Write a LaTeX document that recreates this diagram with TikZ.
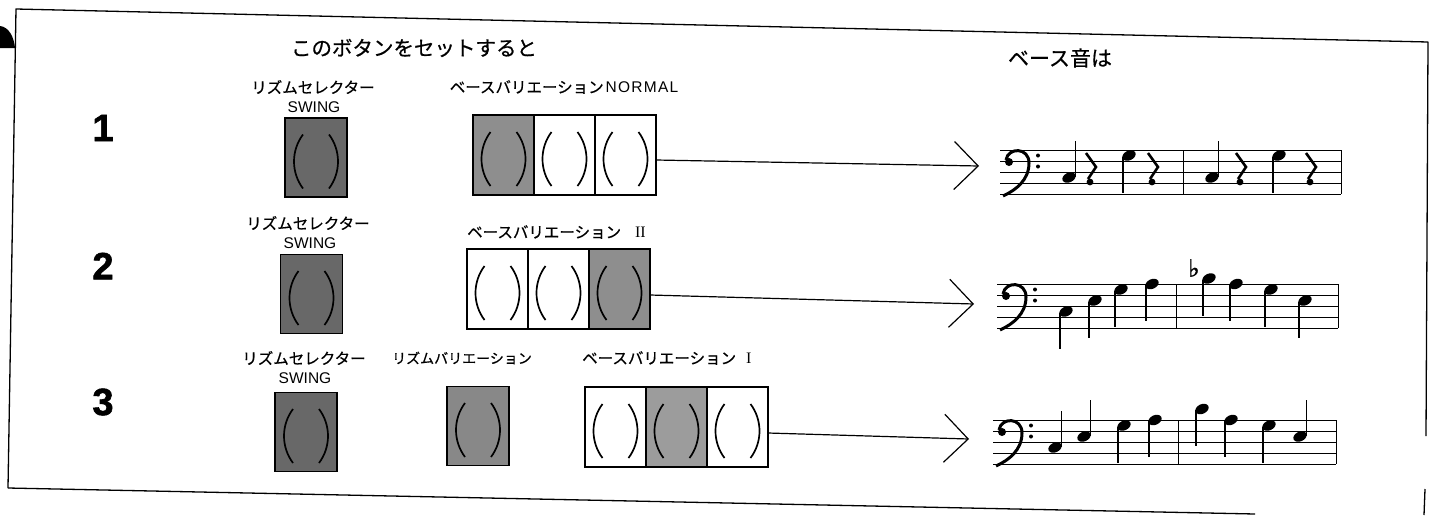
\documentclass[tikz,border=0pt]{standalone}
\usepackage{fontspec}
\setmainfont{Liberation Sans}
\newfontfamily\jp[FakeBold=0.6]{Noto Sans CJK JP}
\newfontfamily\dv[FakeBold=1]{DejaVu Sans}
\newfontfamily\ser{Liberation Serif}
\newfontfamily\heavy[FakeBold=1.5]{Liberation Sans Bold}
\usetikzlibrary{arrows.meta}
\definecolor{selgray}{HTML}{686868}
\definecolor{litgray}{HTML}{8E8E8E}
\definecolor{rvgray}{HTML}{888888}
\definecolor{lit3gray}{HTML}{9C9C9C}
\tikzset{
 ttl/.style={font=\jp\fontsize{20.5}{20.5}\selectfont, inner sep=0},
 lbl/.style={font=\jp\fontsize{15.5}{15.5}\selectfont, inner sep=0},
 sw/.style={font=\fontsize{15.5}{15.5}\selectfont, inner sep=0},
 num/.style={font=\heavy\fontsize{38}{38}\selectfont, inner sep=0},
 btn/.style={draw, line width=1.3pt, minimum width=62pt, minimum height=79pt, inner sep=0, outer sep=0},
 darkbtn/.style={btn, fill=selgray},
 rvbtn/.style={btn, fill=rvgray},
 cell/.style={btn, minimum width=61pt, minimum height=80pt, fill=white},
 litcell/.style={cell, fill=litgray},
 paren/.style={line width=1.7pt},
 conn/.style={line width=1.2pt, -{Straight Barb[length=24pt, width=48pt, line width=1.2pt]}},
 staffline/.style={line width=1pt},
 stemline/.style={line width=1.4pt},
 frame/.style={line width=1.3pt, line join=round},
 parens/.pic={
  \draw[paren] (-13,-23) .. controls (-25,-7) and (-25,15) .. (-13,31);
  \draw[paren] (13,-23) .. controls (25,-7) and (25,15) .. (13,31);
 }
}
% staff: x0, x1, top
\newcommand{\mystaff}[3]{%
 \foreach \k in {0,...,4}{\draw[staffline] (#1,#3+11*\k) -- (#2,#3+11*\k);}
 \draw[staffline] (#2,#3) -- (#2,#3+44);
 \fill (#1+9,#3+12) circle (4);
 \draw[line width=3pt] (#1+6,#3+10) .. controls (#1+8,#3-3) and (#1+29,#3-3) .. (#1+29,#3+13)
   .. controls (#1+29,#3+30) and (#1+16,#3+40) .. (#1+3,#3+46);
 \fill (#1+38,#3+5.5) circle (2);
 \fill (#1+38,#3+16.5) circle (2);
}
\newcommand{\bnote}[3]{%
 \fill[rotate around={25:(#1,#2)}] (#1,#2) ellipse (7 and 4.8);
 \ifnum#3>0 \draw[stemline] (#1+6.2,#2-1) -- (#1+6.2,#2-37);\else \draw[stemline] (#1-6.2,#2+1) -- (#1-6.2,#2+37);\fi
}
\newcommand{\qrest}[2]{%
 \draw[line width=2.6pt, line join=miter] (#1,#2+3) -- (#1+10,#2+17) -- (#1+2,#2+29);
 \fill (#1+4,#2+32) circle (3.4);
}
\newcommand{\bbar}[2]{\draw[staffline] (#1,#2) -- (#1,#2+44);}
\newcommand{\spaced}[1]{\addfontfeature{LetterSpace=8}#1}
\begin{document}
\begin{tikzpicture}[x=1pt,y=-1pt]
\useasboundingbox (0,0) rectangle (1438,515);
% frame
\draw[frame] (8,488) -- (16,9) -- (1428,42) -- (1426,436);
\draw[frame] (8,488) -- (1255,514);
\draw[frame] (1425,489) -- (1424,515);
\fill (0,26) .. controls (9,27) and (14,37) .. (15,48) -- (0,48) -- cycle;

% headings
\node[ttl] (title) at (414,48) {このボタンをセットすると};
\node[ttl, font=\jp\fontsize{21}{21}\selectfont] (result) at (1060,58) {ベース音は};

% ---------- row 1
\node[num] (num1) at (103,128) {1};
\node[lbl] (sel1) at (313,87) {リズムセレクター};
\node[sw] (sw1) at (314,107) {SWING};
\node[darkbtn] (box1) at (316,157.5) {};
\pic at (box1.center) {parens};
\node[lbl] (bv1) at (564,87) {ベースバリエーション\hspace{2pt}{\fontspec{Liberation Sans}\spaced{NORMAL}}};
\node[litcell] (b1a) at (503.5,155) {};
\node[cell] (b1b) at (564.5,155) {};
\node[cell] (b1c) at (625.5,155) {};
\foreach \c in {b1a,b1b,b1c}{\pic at (\c.center) {parens};}
\coordinate (t1) at (979,166);
\draw[conn] ([yshift=-5pt]b1c.east) -- (t1);
\mystaff{1000}{1341}{150}
\bnote{1069}{177.5}{1}
\qrest{1086}{150}
\bnote{1129}{155.5}{-1}
\qrest{1148}{150}
\bbar{1183}{150}
\bnote{1212}{177.5}{1}
\qrest{1236}{150}
\bnote{1279}{155.5}{-1}
\qrest{1306}{150}

% ---------- row 2
\node[num] (num2) at (103,266) {2};
\node[lbl] (sel2) at (308,223) {リズムセレクター};
\node[sw] (sw2) at (310,243) {SWING};
\node[darkbtn] (box2) at (311.5,294) {};
\pic at (box2.center) {parens};
\node[lbl, anchor=west] (bv2) at (467,232) {ベースバリエーション\hspace{14pt}{\ser\fontsize{16}{16}\selectfont II}};
\node[cell] (b2a) at (497.5,289) {};
\node[cell] (b2b) at (558.5,289) {};
\node[litcell] (b2c) at (619.5,289) {};
\foreach \c in {b2a,b2b,b2c}{\pic at (\c.center) {parens};}
\coordinate (t2) at (974,304);
\draw[conn] ([yshift=-6pt]b2c.east) -- (t2);
\mystaff{997}{1338}{284}
\bnote{1066}{311.5}{-1}
\bnote{1095}{300.5}{-1}
\bnote{1121}{289.5}{-1}
\bnote{1152}{284}{-1}
\bbar{1176}{284}
\node[font=\dv\fontsize{24}{24}\selectfont, inner sep=0] (flat) at (1194,268) {♭};
\bnote{1209}{278.5}{-1}
\bnote{1236}{284}{-1}
\bnote{1271}{289.5}{-1}
\bnote{1305}{300.5}{-1}

% ---------- row 3
\node[num] (num3) at (103,402) {3};
\node[lbl] (sel3) at (304,358) {リズムセレクター};
\node[sw] (sw3) at (305,378) {SWING};
\node[darkbtn] (box3) at (306,432) {};
\pic at (box3.center) {parens};
\node[lbl, font=\jp\fontsize{14}{14}\selectfont] (rv3) at (462,358) {リズムバリエーション};
\node[rvbtn] (rvbox) at (478,426) {};
\pic at (rvbox.center) {parens};
\node[lbl, anchor=west] (bv3) at (582,358) {ベースバリエーション\hspace{10pt}{\ser\fontsize{16}{16}\selectfont I}};
\node[cell] (b3a) at (615.5,427) {};
\node[litcell, fill=lit3gray] (b3b) at (676.5,427) {};
\node[cell] (b3c) at (737.5,427) {};
\foreach \c in {b3a,b3b,b3c}{\pic at (\c.center) {parens};}
\coordinate (t3) at (969,439);
\draw[conn] ([yshift=-6pt]b3c.east) -- (t3);
\mystaff{993}{1336}{420}
\bnote{1055}{447.5}{1}
\bnote{1084}{436.5}{1}
\bnote{1124}{425.5}{-1}
\bnote{1155}{420}{-1}
\bbar{1178}{420}
\bnote{1202}{409}{-1}
\bnote{1231}{420}{-1}
\bnote{1269}{425.5}{-1}
\bnote{1300}{436.5}{1}
\end{tikzpicture}
\end{document}
